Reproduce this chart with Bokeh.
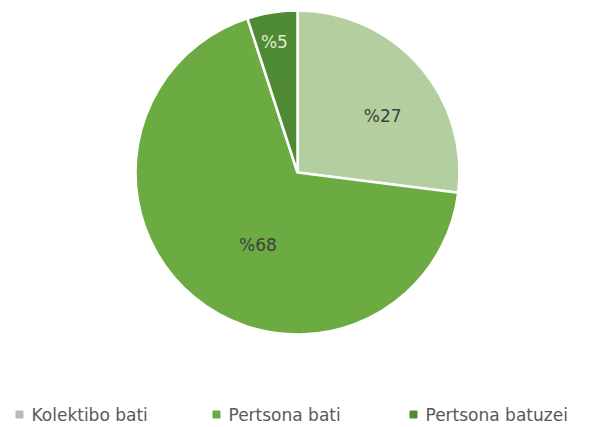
import numpy as np
from bokeh.plotting import figure
from bokeh.models import ColumnDataSource, Range1d
from bokeh.core.properties import value
from bokeh.embed import file_html
from bokeh.resources import INLINE

categories = ["Kolektibo bati", "Pertsona bati", "Pertsona batuzei"]
shares = [27, 68, 5]
labels = ["%27", "%68", "%5"]
colors = ["#b4cf9f", "#6bab41", "#4f8b35"]
legend_colors = ["#b9b9b9", "#6bab41", "#4f8b35"]
label_colors = ["#404040", "#404040", "#dfeccf"]
label_rfrac = [0.63, 0.51, 0.82]
label_shift_deg = [8, -11, -1]

W, H = 592, 427
p = figure(width=W, height=H, output_backend="svg", toolbar_location=None,
           x_range=Range1d(0, W), y_range=Range1d(0, H), min_border=0)
p.axis.visible = False
p.grid.visible = False
p.outline_line_color = None
p.background_fill_color = "white"

cx, cy, R = 297, H - 172, 162
frac = np.array(shares, dtype=float) / sum(shares)
cum_end = np.cumsum(frac)
cum_start = cum_end - frac
start = np.pi / 2 - 2 * np.pi * cum_end
end = np.pi / 2 - 2 * np.pi * cum_start
src = ColumnDataSource(dict(start=start, end=end, color=colors))
p.wedge(x=cx, y=cy, radius=R, start_angle="start", end_angle="end",
        fill_color="color", line_color="white", line_width=2.5, source=src)

mid_cw = 360 * (cum_start + frac / 2) + np.array(label_shift_deg)
rad = np.deg2rad(mid_cw)
lx = cx + np.array(label_rfrac) * R * np.sin(rad)
ly = cy + np.array(label_rfrac) * R * np.cos(rad)
p.text(x=lx, y=ly, text=labels, text_color=label_colors, text_align="center",
       text_baseline="middle", text_font=value("DejaVu Sans"), text_font_size="17px")

# legend
leg_x = np.array([19, 216, 413])
leg_y = H - 414
p.scatter(x=leg_x, y=[leg_y] * 3, marker="square", size=7, color=legend_colors)
p.text(x=leg_x + 12, y=[leg_y] * 3, text=categories, text_color="#595959",
       text_align="left", text_baseline="middle", text_font=value("DejaVu Sans"),
       text_font_size="17px")

open("out.html", "w").write(file_html(p, INLINE))
